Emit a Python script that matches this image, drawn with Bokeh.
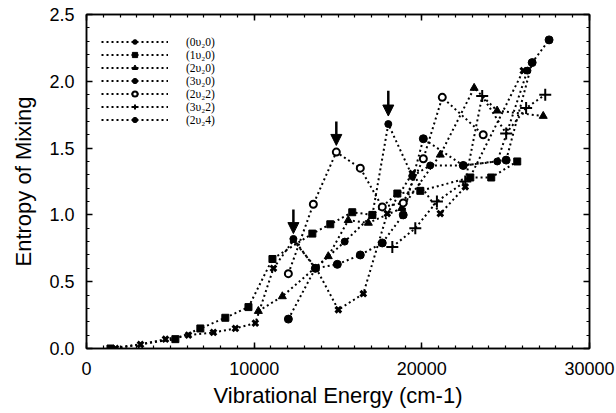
from bokeh.plotting import figure
from bokeh.models import (Range1d, LinearAxis, SingleIntervalTicker, Legend, LegendItem,
                          Arrow, NormalHead, ColumnDataSource, NumeralTickFormatter,
                          CustomJSTickFormatter)
from bokeh.embed import file_html
from bokeh.resources import INLINE

# ---- data (vibrational energy in cm-1, entropy of mixing) ----
labels = ["(0υ₂0)", "(1υ₂0)", "(2υ₂0)", "(3υ₂0)", "(2υ₂2)", "(3υ₂2)", "(2υ₂4)"]

x_0v20 = [1730, 3220, 4710, 6080, 7570, 8880, 10070, 11150, 12340, 13700, 15020, 16510, 17940, 19430, 21100, 22590, 26050]
y_0v20 = [0.00, 0.03, 0.07, 0.10, 0.12, 0.15, 0.19, 0.60, 0.81, 0.60, 0.29, 0.41, 1.01, 1.31, 1.01, 1.21, 2.08]

x_1v20 = [1430, 5300, 6790, 8280, 9660, 11090, 13470, 14540, 15850, 17050, 18540, 19910, 22890, 24140, 25690]
y_1v20 = [0.00, 0.07, 0.15, 0.23, 0.31, 0.67, 0.86, 0.93, 1.02, 1.00, 1.16, 1.18, 1.28, 1.28, 1.40]

x_2v20 = [10250, 11680, 14420, 15610, 16810, 18800, 21100, 23120, 24490, 27240]
y_2v20 = [0.28, 0.39, 0.69, 0.96, 0.94, 1.05, 1.45, 1.95, 1.78, 1.74]

x_3v20 = [12040, 13650, 14960, 16330, 17640, 18890, 20090, 22470, 25030, 26580, 27590]
y_3v20 = [0.22, 0.60, 0.63, 0.70, 0.79, 1.00, 1.57, 1.37, 1.41, 2.14, 2.31]

x_2v22 = [12040, 13530, 14900, 16330, 17640, 18890, 20090, 21220, 23660]
y_2v22 = [0.56, 1.08, 1.47, 1.35, 1.06, 1.09, 1.42, 1.88, 1.60]

x_3v22 = [18240, 19610, 20900, 22590, 23600, 25030, 26220, 27360]
y_3v22 = [0.76, 0.90, 1.10, 1.25, 1.89, 1.61, 1.80, 1.90]

x_2v24 = [12340, 13650, 15400, 17050, 18000, 19430, 20500, 22470, 24500, 26300]
y_2v24 = [0.82, 0.60, 0.80, 1.00, 1.68, 1.29, 1.37, 1.37, 1.40, 2.08]

# arrows marking selected states
arrow_x = [12340, 14900, 18000]
arrow_y_start = [1.04, 1.70, 1.93]
arrow_y_end = [0.86, 1.52, 1.74]

x_ticks_interval = 10000
y_ticks_interval = 0.5

p = figure(width=616, height=413, output_backend="svg", toolbar_location=None,
           x_range=Range1d(0, 30000), y_range=Range1d(0, 2.5),
           min_border_left=86, min_border_right=27, min_border_top=14, min_border_bottom=65)
p.xgrid.visible = False
p.ygrid.visible = False
p.outline_line_color = "black"
p.outline_line_width = 1.5
p.background_fill_color = "white"

xt = SingleIntervalTicker(interval=x_ticks_interval, num_minor_ticks=10)
yt = SingleIntervalTicker(interval=y_ticks_interval, num_minor_ticks=5)

FONT = "Liberation Sans"

def style_axis(ax):
    ax.axis_line_color = "black"
    ax.axis_line_width = 1.5
    ax.major_tick_in = 6
    ax.major_tick_out = 0
    ax.minor_tick_in = 3
    ax.minor_tick_out = 0
    ax.major_tick_line_width = 1.5
    ax.minor_tick_line_width = 1.2
    ax.major_label_text_font = FONT
    ax.major_label_text_color = "black"
    ax.major_label_text_font_size = "18px"

p.xaxis.ticker = xt
p.yaxis.ticker = yt
p.xaxis.formatter = NumeralTickFormatter(format="0")
p.yaxis.formatter = NumeralTickFormatter(format="0.0")
style_axis(p.xaxis[0])
style_axis(p.yaxis[0])
p.xaxis.major_label_standoff = 13
p.yaxis.major_label_standoff = 12
p.xaxis.axis_label = "Vibrational Energy (cm-1)"
p.yaxis.axis_label = "Entropy of Mixing"
for ax in (p.xaxis[0], p.yaxis[0]):
    ax.axis_label_text_font = FONT
    ax.axis_label_text_font_size = "22px"
    ax.axis_label_text_font_style = "normal"
    ax.axis_label_text_color = "black"
p.xaxis.axis_label_standoff = 5
p.yaxis.axis_label_standoff = 10

blank = CustomJSTickFormatter(code="return ''")
ax_r = LinearAxis(ticker=SingleIntervalTicker(interval=y_ticks_interval, num_minor_ticks=5),
                  formatter=blank)
style_axis(ax_r)
ax_r.major_label_standoff = 0
p.add_layout(ax_r, "right")
ax_t = LinearAxis(ticker=SingleIntervalTicker(interval=x_ticks_interval, num_minor_ticks=10),
                  formatter=blank)
style_axis(ax_t)
ax_t.major_label_standoff = 0
p.add_layout(ax_t, "above")

series = [
    (x_0v20, y_0v20, dict(marker="x", size=8, line_width=3, fill_color="black")),
    (x_1v20, y_1v20, dict(marker="square", size=7, line_width=1, fill_color="black")),
    (x_2v20, y_2v20, dict(marker="triangle", size=8, line_width=1, fill_color="black")),
    (x_3v20, y_3v20, dict(marker="circle", size=8, line_width=1, fill_color="black")),
    (x_2v22, y_2v22, dict(marker="circle", size=7, line_width=2, fill_color="white")),
    (x_3v22, y_3v22, dict(marker="cross", size=12, line_width=2, fill_color="black")),
    (x_2v24, y_2v24, dict(marker="circle", size=7, line_width=1, fill_color="black")),
]

items = []
for (xs, ys, mk), lab in zip(series, labels):
    src = ColumnDataSource(data=dict(x=xs, y=ys))
    lr = p.line("x", "y", source=src, line_color="black", line_width=2, line_dash="2 3")
    sr = p.scatter("x", "y", source=src, line_color="black", **mk)
    items.append(LegendItem(label=lab, renderers=[lr, sr]))

arrow_src = ColumnDataSource(data=dict(xs=arrow_x, ys=arrow_y_start, xe=arrow_x, ye=arrow_y_end))
p.add_layout(Arrow(end=NormalHead(size=11, fill_color="black", line_color="black"),
                   x_start="xs", y_start="ys", x_end="xe", y_end="ye", source=arrow_src,
                   line_color="black", line_width=2.5))

legend = Legend(items=items, location=(15, 222), glyph_width=67, glyph_height=13,
                label_height=13, label_standoff=18, spacing=0, padding=5, margin=0,
                label_text_font="Liberation Serif", label_text_font_size="11.5px",
                label_text_color="black",
                border_line_color=None, background_fill_alpha=0)
p.add_layout(legend)

open("out.html", "w").write(file_html(p, INLINE))
